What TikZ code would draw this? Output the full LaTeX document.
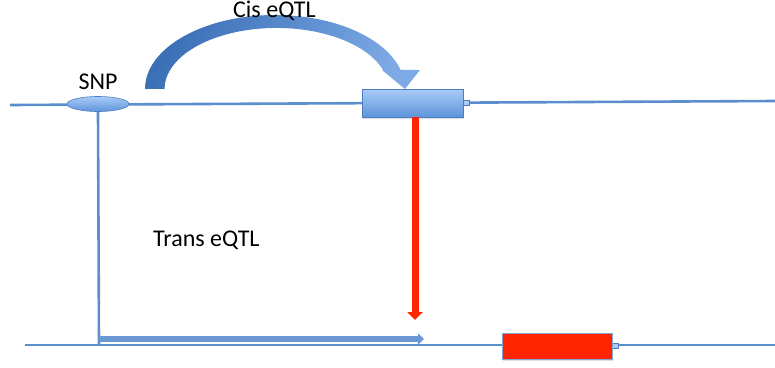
\documentclass[tikz,border=0pt]{standalone}
\usepackage{fontspec}
\setmainfont{Carlito}
\usetikzlibrary{arrows.meta,shapes.geometric,shadows}
\definecolor{lineblue}{HTML}{5B8DCF}
\definecolor{edgeblue}{HTML}{4A7EC2}
\definecolor{boxtop}{HTML}{A9CBF6}
\definecolor{boxbot}{HTML}{5E94DA}
\definecolor{arcdark}{HTML}{3C70B6}
\definecolor{arclight}{HTML}{7DAAE6}
\definecolor{genered}{HTML}{FF2500}
\tikzset{
  chrom/.style={draw=lineblue, line width=2.6bp},
  genebox/.style={rectangle, draw=edgeblue, line width=0.6bp, top color=boxtop, bottom color=boxbot, inner sep=0pt,
     drop shadow={opacity=0.25, shadow xshift=1bp, shadow yshift=-2bp}},
  redbox/.style={rectangle, draw=edgeblue!70, line width=0.6bp, fill=genered, inner sep=0pt,
     drop shadow={opacity=0.25, shadow xshift=1bp, shadow yshift=-2bp}},
  tab/.style={rectangle, draw=edgeblue, line width=0.5bp, fill=boxtop, inner sep=0pt, minimum width=6bp, minimum height=5bp},
  lbl/.style={font=\fontsize{24bp}{28bp}\selectfont, inner sep=0pt, text=black},
  redarrow/.style={draw=genered, line width=7bp, -{Triangle[width=15bp,length=8bp]}},
  bluearrow/.style={draw=lineblue!90!white, line width=6bp, -{Triangle[width=11bp,length=6bp]}},
}
\begin{document}
\begin{tikzpicture}[x=1bp,y=-1bp]
\useasboundingbox (0,0) rectangle (775,367);
% chromosome lines
\coordinate (t1) at (10,105);
\coordinate (t2) at (775,101);
\coordinate (b1) at (25,345);
\coordinate (b2) at (775,345);
\draw[chrom] (t1) -- (t2);
\draw[chrom] (b1) -- (b2);
% SNP
\node[ellipse, draw=edgeblue, line width=0.6bp, top color=boxtop, bottom color=boxbot, minimum width=62bp, minimum height=15bp, inner sep=0pt] (snp) at (98,104) {};
\node[lbl, anchor=base] (snplbl) at (98,89) {SNP};
% vertical line from SNP to bottom chromosome
\coordinate (vb) at (99,345);
\draw[chrom] (snp.south) -- (vb);
% top gene
\node[tab] (tab1) at (466,103) {};
\node[genebox, minimum width=101bp, minimum height=28bp] (gene1) at (412.5,103) {};
% bottom gene
\node[tab] (tab2) at (615,345.5) {};
\node[redbox, minimum width=110bp, minimum height=26bp] (gene2) at (557,346) {};
% cis arrow (curved)
\shade[left color=arcdark, right color=arclight, shading angle=60]
  (145,89) arc[start angle=180, end angle=345.1, x radius=130, y radius=74]
  -- (420,70) -- (405,89) -- (382,70) -- (383,70)
  arc[start angle=341.9, end angle=180, x radius=112, y radius=61] -- cycle;
\node[lbl, anchor=base west] (cis) at (233,17) {Cis eQTL};
% trans eQTL arrows
\coordinate (rt) at (415,320);
\draw[redarrow] (gene1.south -| rt) -- (rt);
\coordinate (bs) at (99,339);
\coordinate (be) at (424,339);
\draw[bluearrow] (bs) -- (be);
\node[lbl, anchor=base west] (trans) at (153,246) {Trans eQTL};
\end{tikzpicture}
\end{document}
